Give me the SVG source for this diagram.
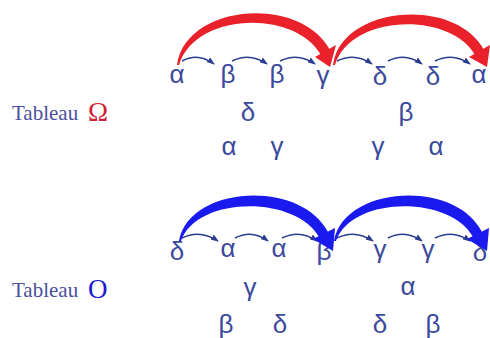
<svg xmlns="http://www.w3.org/2000/svg" width="490" height="338" viewBox="0 0 490 338">
<defs>
<marker id="ah" viewBox="0 0 8 6" refX="7" refY="3" markerWidth="8" markerHeight="6" markerUnits="userSpaceOnUse" orient="auto">
<path d="M0,0 L8,3 L0,6 z" fill="#2b3d8f"/>
</marker>
<style>
.g{font-family:"Liberation Sans",Arial,sans-serif;font-size:26px;fill:#3b4a9c;text-anchor:middle}
.lab{font-family:"Liberation Serif","Times New Roman",serif;font-size:21px;fill:#4a509c}
.sm{fill:none;stroke:#2b3d8f;stroke-width:1.5;marker-end:url(#ah)}
.red{fill:#e8212b}
.blue{fill:#1a1aee}
</style>
</defs>
<rect width="490" height="338" fill="#ffffff"/>
<g id="label-omega">
<text class="lab" x="12" y="120">Tableau</text>
<text x="88" y="121" font-family="Liberation Serif,serif" font-size="27" fill="#cc2233">Ω</text>
</g>
<g id="label-o">
<text class="lab" x="12" y="297">Tableau</text>
<text x="88" y="298" font-family="Liberation Serif,serif" font-size="27" fill="#1a1ad0">O</text>
</g>
<g id="omega-row1">
<text class="g" x="177" y="83">α</text>
<text class="g" x="228" y="83">β</text>
<text class="g" x="277" y="83">β</text>
<text class="g" x="323" y="84">γ</text>
<text class="g" x="380" y="85">δ</text>
<text class="g" x="433" y="85">δ</text>
<text class="g" x="479" y="83">α</text>
</g>
<g id="omega-row2">
<text class="g" x="248" y="121">δ</text>
<text class="g" x="406" y="121">β</text>
</g>
<g id="omega-row3">
<text class="g" x="229" y="155">α</text>
<text class="g" x="277" y="155">γ</text>
<text class="g" x="378" y="155">γ</text>
<text class="g" x="436" y="155">α</text>
</g>
<g id="o-row1">
<text class="g" x="177" y="260">δ</text>
<text class="g" x="228" y="257">α</text>
<text class="g" x="279" y="257">α</text>
<text class="g" x="324" y="260">β</text>
<text class="g" x="380" y="258">γ</text>
<text class="g" x="428" y="258">γ</text>
<text class="g" x="480" y="261">δ</text>
</g>
<g id="o-row2">
<text class="g" x="250" y="296">γ</text>
<text class="g" x="408" y="295">α</text>
</g>
<g id="o-row3">
<text class="g" x="226" y="333">β</text>
<text class="g" x="280" y="333">δ</text>
<text class="g" x="380" y="333">δ</text>
<text class="g" x="433" y="333">β</text>
</g>
<g id="connectors">
<path class="sm" d="M182,61 Q198,52 214,64"/>
<path class="sm" d="M232,61 Q250,52 267,64"/>
<path class="sm" d="M280,61 Q298,52 315,64"/>
<path class="sm" d="M337,61 Q355,52 372,64"/>
<path class="sm" d="M388,61 Q405,52 422,64"/>
<path class="sm" d="M435,61 Q453,52 470,64"/>
<path class="sm" d="M182,238 Q200,229 218,241"/>
<path class="sm" d="M235,238 Q252,229 268,241"/>
<path class="sm" d="M282,238 Q300,229 317,241"/>
<path class="sm" d="M337,238 Q355,229 373,241"/>
<path class="sm" d="M388,238 Q405,229 422,241"/>
<path class="sm" d="M435,238 Q453,229 470,241"/>
<path class="red" d="M177,65 C185,4 300,-6 330,50 L321,55 C295,9 195,12 179,65 Z"/>
<path class="red" d="M315,57 L336,45 L330,67 Z"/>
<path class="red" d="M333,65 C341,6 455,-4 484,50 L475,55 C450,11 350,14 335,65 Z"/>
<path class="red" d="M469,57 L490,45 L487,67 Z"/>
<path class="blue" d="M179,241 C188,186 300,178 328,232 L319,237 C295,195 197,196 181,241 Z"/>
<path class="blue" d="M313,239 L335,228 L333,251 Z"/>
<path class="blue" d="M334,241 C343,186 455,178 482,232 L473,237 C450,195 352,196 336,241 Z"/>
<path class="blue" d="M467,239 L489,228 L487,251 Z"/>
</g>
</svg>
